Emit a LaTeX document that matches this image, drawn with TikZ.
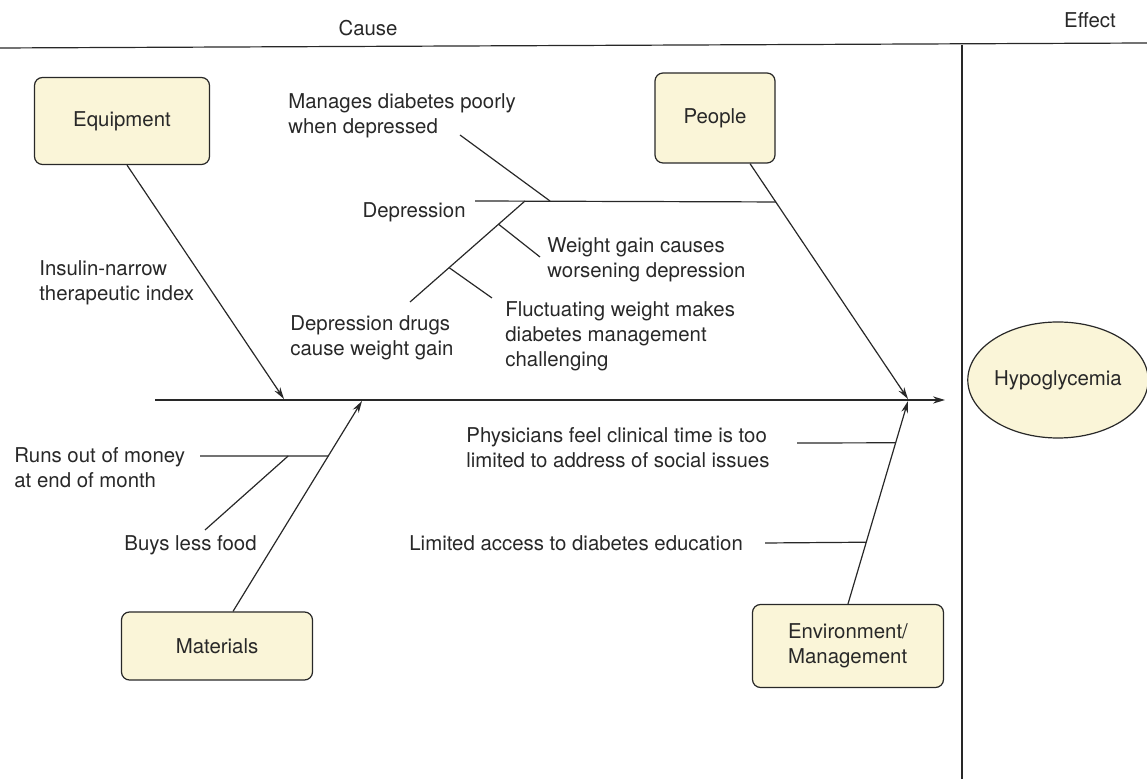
\documentclass[tikz,border=0pt]{standalone}
\usepackage{fontspec}
\setmainfont{TeX Gyre Heros}
\usetikzlibrary{arrows.meta,calc,shapes.geometric}
\definecolor{Cream}{RGB}{250,245,216}
\definecolor{Ink}{RGB}{40,40,40}
\tikzset{
  rule/.style={draw=Ink,line width=0.6pt},
  head/.style={font=\fontsize{10.2}{12.5}\selectfont,text=Ink},
  catbox/.style={draw=Ink,rounded corners=4pt,fill=Cream,line width=0.6pt,align=left,font=\fontsize{10.2}{12.5}\selectfont,text=Ink},
  effectnode/.style={ellipse,draw=Ink,fill=Cream,line width=0.6pt,minimum width=83pt,minimum height=58pt,inner sep=0pt,font=\fontsize{10.2}{12.5}\selectfont,text=Ink},
  spine/.style={-{Stealth[length=6pt,width=3.6pt]},draw=Ink,line width=0.6pt},
  bone/.style={-{Stealth[length=6pt,width=3.4pt]},draw=Ink,line width=0.6pt},
  twig/.style={draw=Ink,line width=0.6pt},
  note/.style={anchor=west,align=left,inner sep=0pt,font=\fontsize{10.2}{12.5}\selectfont,text=Ink}
}
\begin{document}
\begin{tikzpicture}[x=0.5pt,y=-0.5pt]
\useasboundingbox (0,0) rectangle (1147,779);
% frame
\coordinate (topL) at (0,48);
\coordinate (topR) at (1147,43);
\coordinate (divT) at (962,45);
\coordinate (divB) at (962,779);
\draw[rule] (topL) -- (topR);
\draw[rule] (divT) -- (divB);
\node[head] (cause) at (368,28) {Cause};
\node[head] (effect) at (1090,20) {Effect};

% categories and effect
\node[catbox,minimum width=87.5pt,minimum height=43.5pt] (equip) at (122,121) {Equipment};
\node[catbox,minimum width=60pt,minimum height=45pt] (people) at (715,118) {People};
\node[catbox,minimum width=95.5pt,minimum height=34pt] (mat) at (217,646) {Materials};
\node[catbox,minimum width=95.5pt,minimum height=41.5pt] (env) at (848,646) {Environment/\\Management};
\node[effectnode] (hypo) at (1058,380) {Hypoglycemia};

% spine
\coordinate (spineL) at (155,400);
\coordinate (spineR) at (945,400);
\draw[spine] (spineL) -- (spineR);

% main bones
\coordinate (equipTail) at ([xshift=2.5pt]equip.south);
\coordinate (pplTail) at ([xshift=17.5pt]people.south);
\coordinate (matTail) at ([xshift=8pt]mat.north);
\coordinate (envTail) at (env.north);
\coordinate (equipTip) at (284,399);
\coordinate (pplTip) at (908,399);
\coordinate (matTip) at (362,401);
\coordinate (envTip) at (908,401);
\draw[bone] (equipTail) -- (equipTip);
\draw[bone] (pplTail) -- (pplTip);
\draw[bone] (matTail) -- (matTip);
\draw[bone] (envTail) -- (envTip);

% equipment
\node[note] (insulin) at (39,283) {Insulin-narrow\\therapeutic index};

% people: depression branch
\coordinate (depL) at (475,201);
\coordinate (depR) at ($(pplTail)!0.163!(pplTip)$);
\draw[twig] (depL) -- (depR);
\node[note,anchor=east] (depr) at (466,212) {Depression};
\node[note] (manages) at (288,116) {Manages diabetes poorly\\when depressed};
\coordinate (manEnd) at (460,135);
\coordinate (manJoin) at (550,201);
\draw[twig] (manEnd) -- (manJoin);
\coordinate (diagTop) at (525,201);
\coordinate (diagEnd) at (410,302);
\draw[twig] (diagTop) -- (diagEnd);
\node[note] (drugs) at (290,338) {Depression drugs\\cause weight gain};
\coordinate (wgJoin) at ($(diagTop)!0.23!(diagEnd)$);
\coordinate (wgEnd) at (540,257);
\draw[twig] (wgJoin) -- (wgEnd);
\node[note] (wgain) at (547,260) {Weight gain causes\\worsening depression};
\coordinate (flJoin) at ($(diagTop)!0.66!(diagEnd)$);
\coordinate (flEnd) at (492,298);
\draw[twig] (flJoin) -- (flEnd);
\node[note] (fluct) at (505,336) {Fluctuating weight makes\\diabetes management\\challenging};

% materials
\coordinate (runEnd) at (200,456);
\coordinate (runJoin) at ($(matTail)!0.739!(matTip)$);
\draw[twig] (runEnd) -- (runJoin);
\node[note] (runs) at (14,468) {Runs out of money\\at end of month};
\coordinate (buyEnd) at (205,530);
\coordinate (buyJoin) at ($(runEnd)!0.6875!(runJoin)$);
\draw[twig] (buyEnd) -- (buyJoin);
\node[note] (buys) at (124,545) {Buys less food};

% environment / management
\coordinate (phyEnd) at (797,443);
\coordinate (phyJoin) at ($(envTail)!0.794!(envTip)$);
\draw[twig] (phyEnd) -- (phyJoin);
\node[note] (phys) at (466,448) {Physicians feel clinical time is too\\limited to address of social issues};
\coordinate (limEnd) at (765,543);
\coordinate (limJoin) at ($(envTail)!0.304!(envTip)$);
\draw[twig] (limEnd) -- (limJoin);
\node[note] (limited) at (409,543) {Limited access to diabetes education};
\end{tikzpicture}
\end{document}
